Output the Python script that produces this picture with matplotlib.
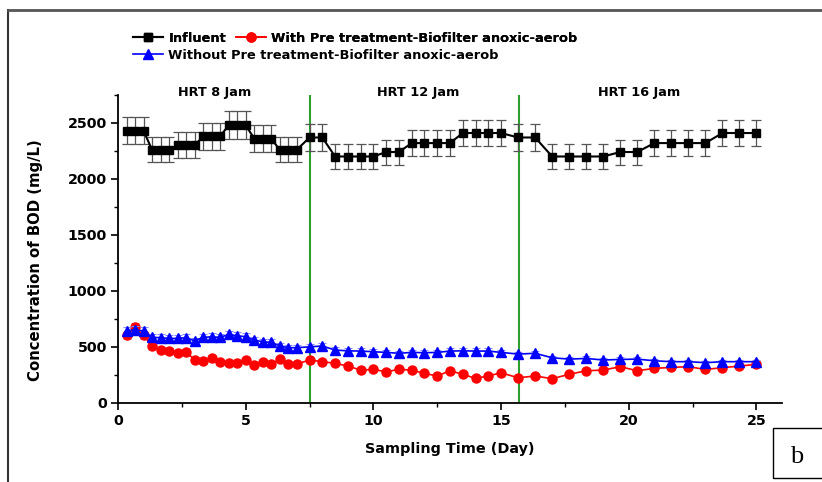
import matplotlib
matplotlib.use("Agg")
import matplotlib.pyplot as plt
from matplotlib.lines import Line2D
from matplotlib.patches import Rectangle
import numpy as np

# sampling days: HRT 8 every 1/3 day, HRT 12 every 1/2 day, HRT 16 every 2/3 day
days_hrt8 = [1/3, 2/3, 1, 4/3, 5/3, 2, 7/3, 8/3, 3, 10/3, 11/3, 4, 13/3, 14/3, 5,
             16/3, 17/3, 6, 19/3, 20/3, 7]
days_hrt12 = [7.5, 8, 8.5, 9, 9.5, 10, 10.5, 11, 11.5, 12, 12.5, 13, 13.5, 14, 14.5, 15]
days_hrt16 = [47/3, 49/3, 17, 53/3, 55/3, 19, 59/3, 61/3, 21, 65/3, 67/3, 23, 71/3, 73/3, 25]
days = np.array(days_hrt8 + days_hrt12 + days_hrt16)

influent = np.array([
    2430, 2430, 2430, 2260, 2260, 2260, 2300, 2300, 2300, 2380, 2380, 2380,
    2480, 2480, 2480, 2360, 2360, 2360, 2260, 2260, 2260,
    2370, 2370, 2200, 2200, 2200, 2200, 2240, 2240, 2320, 2320, 2320, 2320,
    2410, 2410, 2410, 2410,
    2370, 2370, 2200, 2200, 2200, 2200, 2240, 2240, 2320, 2320, 2320, 2320,
    2410, 2410, 2410])

with_pre = np.array([
    600, 675, 600, 507, 469, 460, 445, 454, 380, 373, 394, 365, 356, 356, 376,
    338, 362, 344, 385, 344, 344,
    380, 365, 350, 326, 290, 296, 275, 296, 290, 260, 237, 284, 252, 216, 237, 266,
    221, 237, 213, 252, 284, 290, 320, 284, 305, 314, 320, 296, 311, 326, 341])

without_pre = np.array([
    640, 650, 640, 582, 580, 573, 573, 580, 552, 582, 588, 582, 609, 597, 588,
    558, 543, 537, 507, 490, 490,
    498, 505, 469, 462, 460, 454, 448, 440, 448, 445, 448, 460, 462, 460, 460, 448,
    433, 440, 400, 388, 394, 380, 385, 388, 373, 365, 365, 356, 365, 365, 365])

err_frac = 0.05  # error bars read as about 5 % of each value

hrt_bounds = [7.5, 15.7]
hrt_labels = ["HRT 8 Jam", "HRT 12 Jam", "HRT 16 Jam"]
hrt_label_x = [3.8, 11.75, 20.4]


def main() -> None:
    plt.rcParams['font.family'] = ['DejaVu Sans']
    plt.rcParams['font.weight'] = 'bold'
    fig = plt.figure(figsize=(8.22, 4.82), dpi=100)
    ax = fig.add_axes([118 / 822, 79.5 / 482, 664 / 822, 307.5 / 482])

    ax.errorbar(days, influent, yerr=influent * err_frac, color='black', lw=1.5,
                marker='s', ms=6, ecolor='#555555', elinewidth=0.9, capsize=3.5,
                capthick=0.9, zorder=3)
    ax.errorbar(days, with_pre, yerr=with_pre * err_frac, color='red', lw=1.2,
                marker='o', ms=6.5, ecolor='#ff8888', elinewidth=0.8, capsize=3,
                capthick=0.8, zorder=4)
    ax.errorbar(days, without_pre, yerr=without_pre * err_frac, color='blue', lw=1.2,
                marker='^', ms=6.5, ecolor='#8888ff', elinewidth=0.8, capsize=3,
                capthick=0.8, zorder=5)

    for xb in hrt_bounds:
        ax.axvline(xb, color='#2e9e2e', lw=1.5, zorder=2)
    for x, lab in zip(hrt_label_x, hrt_labels):
        ax.text(x, 2770, lab, ha='center', va='center', fontsize=9.3,
                fontweight='bold', clip_on=False)

    ax.set_xlim(0, 26)
    ax.set_ylim(0, 2750)
    ax.set_xticks(np.arange(0, 26, 5))
    ax.set_xticks(np.arange(0, 26, 2.5), minor=True)
    ax.set_yticks(np.arange(0, 2501, 500))
    ax.set_yticks(np.arange(0, 2751, 250), minor=True)
    ax.spines['top'].set_visible(False)
    ax.spines['right'].set_visible(False)
    for sp in ('left', 'bottom'):
        ax.spines[sp].set_linewidth(1.3)
    ax.tick_params(which='major', direction='out', length=5, width=1.2,
                   labelsize=10.3, pad=3)
    ax.tick_params(which='minor', direction='out', length=3, width=1.0)
    for lab in ax.get_xticklabels() + ax.get_yticklabels():
        lab.set_fontweight('bold')

    ax.set_xlabel("Sampling Time (Day)", fontsize=10.4, fontweight='bold', labelpad=10)
    ax.set_ylabel("Concentration of BOD (mg/L)", fontsize=10.7, fontweight='bold')
    ax.yaxis.set_label_coords(-0.113, 0.462)

    h_inf = Line2D([], [], color='black', lw=1.5, marker='s', ms=6)
    h_with = Line2D([], [], color='red', lw=1.2, marker='o', ms=6.5)
    h_wo = Line2D([], [], color='blue', lw=1.2, marker='^', ms=6.5)
    leg_kw = dict(frameon=False, handlelength=2.3, handletextpad=0.4,
                  borderaxespad=0, borderpad=0, prop={'weight': 'bold', 'size': 9.4})
    leg1 = fig.legend([h_inf, h_with],
                      ["Influent", "With Pre treatment-Biofilter anoxic-aerob"],
                      loc='upper left', bbox_to_anchor=(133 / 822, 1 - 32 / 482),
                      ncol=2, columnspacing=0.75, **leg_kw)
    fig.add_artist(leg1)
    fig.legend([h_wo], ["Without Pre treatment-Biofilter anoxic-aerob"],
               loc='upper left', bbox_to_anchor=(133 / 822, 1 - 49 / 482), **leg_kw)

    # outer frame of the original figure panel
    fig.add_artist(Line2D([8 / 822, 8 / 822], [0, 1 - 10 / 482], color='#333333',
                          lw=1.5, transform=fig.transFigure))
    fig.add_artist(Line2D([8 / 822, 1], [1 - 10 / 482, 1 - 10 / 482], color='#555555',
                          lw=2, transform=fig.transFigure))

    # panel letter box
    fig.add_artist(Rectangle((773 / 822, 4 / 482), 60 / 822, 50 / 482, fill=False,
                             edgecolor='black', lw=1, transform=fig.transFigure))
    fig.text(797 / 822, 1 - 457 / 482, "b", ha='center', va='center', fontsize=19,
             family='Liberation Serif', fontweight='normal')

    fig.savefig("out.png", dpi=100)


if __name__ == "__main__":
    main()
